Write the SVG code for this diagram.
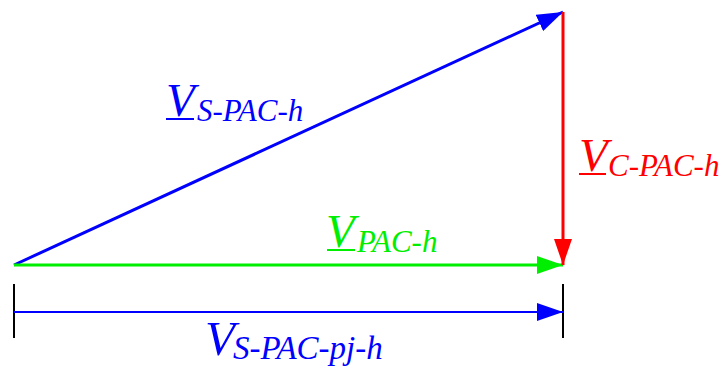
<svg xmlns="http://www.w3.org/2000/svg" width="722" height="369" viewBox="0 0 722 369">
<style>
.t{font-family:"Liberation Serif","Times New Roman",serif;font-style:italic}
.big{font-size:47px}
.sub{font-size:31px}
.ul{stroke-width:2}
</style>
<defs>
<marker id="ab" markerUnits="userSpaceOnUse" markerWidth="26" markerHeight="18" refX="26" refY="9" orient="auto"><path d="M0,0L26,9L0,18z" fill="#0000ff"/></marker>
<marker id="ag" markerUnits="userSpaceOnUse" markerWidth="26" markerHeight="18" refX="26" refY="9" orient="auto"><path d="M0,0L26,9L0,18z" fill="#00ee00"/></marker>
<marker id="ar" markerUnits="userSpaceOnUse" markerWidth="26" markerHeight="18" refX="26" refY="9" orient="auto"><path d="M0,0L26,9L0,18z" fill="#ff0000"/></marker>
</defs>
<g id="connectors" fill="none" stroke-width="3">
<line x1="14" y1="265" x2="563" y2="12" stroke="#0000ff" marker-end="url(#ab)"/>
<line x1="14" y1="265" x2="563" y2="265" stroke="#00ee00" marker-end="url(#ag)"/>
<line x1="563" y1="12" x2="563" y2="265" stroke="#ff0000" marker-end="url(#ar)"/>
<line x1="14" y1="284" x2="14" y2="338" stroke="#000" stroke-width="2"/>
<line x1="563" y1="284" x2="563" y2="338" stroke="#000" stroke-width="2"/>
<line x1="14" y1="312" x2="563" y2="312" stroke="#0000ff" stroke-width="2" marker-end="url(#ab)"/>
</g>
<g id="label-vs" fill="#0000ff" class="t">
<text x="166" y="116" class="big">V</text><text x="197" y="121" class="sub">S-PAC-h</text>
<line class="ul" x1="166" y1="119" x2="194" y2="119" stroke="#0000ff"/>
</g>
<g id="label-vc" fill="#ff0000" class="t">
<text x="579" y="171" class="big">V</text><text x="608" y="176" class="sub">C-PAC-h</text>
<line class="ul" x1="579" y1="174" x2="606" y2="174" stroke="#ff0000"/>
</g>
<g id="label-vpac" fill="#00ee00" class="t">
<text x="326" y="247" class="big">V</text><text x="357" y="252" class="sub">PAC-h</text>
<line class="ul" x1="327" y1="250" x2="355" y2="250" stroke="#00ee00"/>
</g>
<g id="label-vpj" fill="#0000ff" class="t">
<text x="205" y="355" style="font-size:49px">V</text><text x="233" y="359" class="sub" style="font-size:33px">S-PAC-pj-h</text>
</g>
</svg>
